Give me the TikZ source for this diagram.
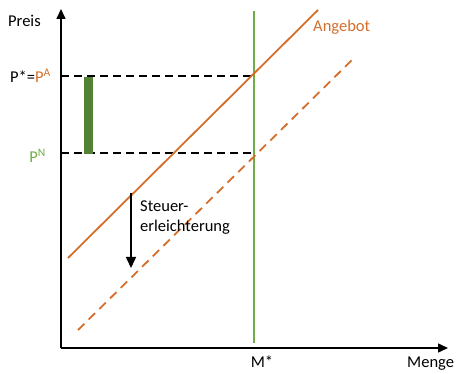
\documentclass[tikz,border=0pt]{standalone}
\usepackage{fontspec}
\setmainfont{Carlito}
\usetikzlibrary{arrows.meta}
\definecolor{ora}{HTML}{D46E2C}
\definecolor{grnline}{HTML}{70AD47}
\definecolor{grnbar}{HTML}{548235}
\tikzset{
  axis/.style={line width=1.5pt,-{Triangle[length=10pt,width=9pt]}},
  lbl/.style={font=\fontsize{16.5}{20}\selectfont,inner sep=0pt},
  guide/.style={line width=1.7pt,dash pattern=on 8pt off 5pt},
  supply/.style={ora,line width=1.8pt},
}
\begin{document}
\begin{tikzpicture}[x=1pt,y=-1pt]
\useasboundingbox (0,0) rectangle (456,374);
\coordinate (O) at (61,348);
\coordinate (Ytop) at (61,9);
\coordinate (Xend) at (448,348);
\draw[axis] (O) -- (Ytop);
\draw[axis] (O) -- (Xend);
% guides
\coordinate (PA) at (61,76);
\coordinate (PN) at (61,153);
\coordinate (E1) at (254,76);
\coordinate (E2) at (254,153);
\draw[guide] (PA) -- (E1);
\draw[guide] (PN) -- (E2);
% green quantity line
\coordinate (Mt) at (254,11);
\coordinate (Mb) at (254,343);
\draw[grnline,line width=1.5pt] (Mt) -- (Mb);
% green bar
\fill[grnbar] (84,77) rectangle (93,154);
% supply curves
\coordinate (S1) at (68,258);
\coordinate (S2) at (318,10);
\draw[supply] (S1) -- (S2);
\coordinate (D1) at (78,330);
\coordinate (D2) at (355,57);
\draw[supply,dash pattern=on 9pt off 6pt] (D1) -- (D2);
% arrow
\coordinate (A1) at (131,193);
\coordinate (A2) at (131,268);
\draw[line width=1.5pt,-{Triangle[length=11pt,width=10pt]}] (A1) -- (A2);
% labels
\node[lbl,anchor=west] (preis) at (8,21) {Preis};
\node[lbl,anchor=west] (menge) at (407,364) {Menge};
\node[lbl] (mstar) at (262,362) {M*};
\node[lbl,anchor=east] (pstar) at (51,76) {P*=\textcolor{ora}{P\textsuperscript{A}}};
\node[lbl,anchor=east,text=grnline] (pn) at (46,156) {P\textsuperscript{N}};
\node[lbl,anchor=west,text=ora] (ang) at (313,27) {Angebot};
\node[lbl,anchor=north west,align=left] (steuer) at (140,201) {Steuer-\\erleichterung};
\end{tikzpicture}
\end{document}
